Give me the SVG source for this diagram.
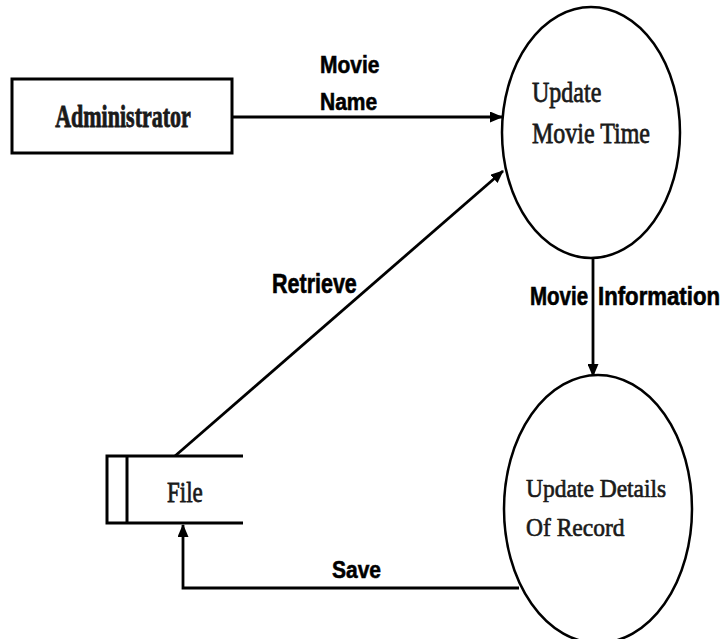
<svg xmlns="http://www.w3.org/2000/svg" width="724" height="639" viewBox="0 0 724 639">
<style>
.shape{fill:#fff;stroke:#000;stroke-width:3}
.ell{fill:#fff;stroke:#000;stroke-width:2.5}
.conn{fill:none;stroke:#000;stroke-width:2.8}
.serif{font-family:"Liberation Serif","Times New Roman",serif;fill:#1a1a1a;stroke:#1a1a1a;stroke-width:0.6}
.lbl{font-family:"Liberation Sans",Arial,sans-serif;font-weight:bold;fill:#000;stroke:#000;stroke-width:0.5}
</style>
<defs>
<marker id="arr" viewBox="0 0 13 11" refX="12" refY="5.5" markerWidth="13" markerHeight="11" markerUnits="userSpaceOnUse" orient="auto">
<path d="M0,0 L13,5.5 L0,11 Z" fill="#000"/>
</marker>
</defs>
<rect width="724" height="639" fill="#fff"/>
<g id="connectors">
<line class="conn" x1="233" y1="117" x2="502" y2="117" marker-end="url(#arr)"/>
<line class="conn" x1="175" y1="456" x2="503" y2="171" marker-end="url(#arr)"/>
<line class="conn" x1="593" y1="258" x2="593" y2="376" marker-end="url(#arr)"/>
<polyline class="conn" points="519,588 183,588 183,525" marker-end="url(#arr)"/>
<text class="lbl" font-size="21" transform="translate(320 73) scale(1 1.15)">Movie</text>
<text class="lbl" font-size="21" transform="translate(320 110) scale(1 1.15)">Name</text>
<text class="lbl" font-size="21.5" transform="translate(272 293) scale(1 1.25)">Retrieve</text>
<text class="lbl" font-size="20.5" transform="translate(530 305) scale(1 1.25)">Movie</text>
<text class="lbl" font-size="20.5" transform="translate(598 305) scale(1 1.25)" textLength="122" lengthAdjust="spacingAndGlyphs">Information</text>
<text class="lbl" font-size="21" transform="translate(332 578) scale(1 1.15)">Save</text>
</g>
<g id="administrator">
<rect class="shape" x="12" y="79" width="220" height="74"/>
<text class="serif" font-size="22" font-weight="bold" text-anchor="middle" transform="translate(123 127) scale(1 1.45)" stroke-width="0.3">Administrator</text>
</g>
<g id="update-movie-time">
<ellipse class="ell" cx="591" cy="132.5" rx="89" ry="125.5"/>
<text class="serif" font-size="24" transform="translate(532 102) scale(1 1.25)">Update</text>
<text class="serif" font-size="24" transform="translate(532 143) scale(1 1.25)">Movie Time</text>
</g>
<g id="update-details">
<ellipse class="ell" cx="598" cy="509" rx="94" ry="134"/>
<text class="serif" font-size="23.5" transform="translate(526 497) scale(1 1.1)">Update Details</text>
<text class="serif" font-size="23.5" transform="translate(526 536) scale(1 1.1)">Of Record</text>
</g>
<g id="file">
<path class="shape" d="M243,456 H107 V523 H243 M127,456 V523" fill="none"/>
<text class="serif" font-size="23" transform="translate(167 502) scale(1 1.3)">File</text>
</g>
</svg>
